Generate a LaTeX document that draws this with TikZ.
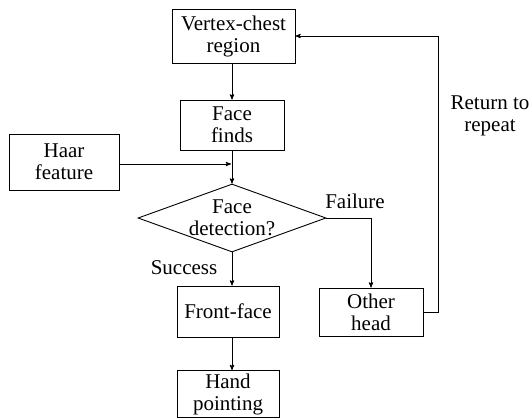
\documentclass[tikz,border=0pt]{standalone}
\usepackage{fontspec}
\setmainfont{Liberation Serif}
\usepackage{tikz}
\usetikzlibrary{arrows,shapes}

\begin{document}
\begin{tikzpicture}[x=1pt,y=-1pt,>=stealth',line width=0.9pt,
    font=\fontsize{21}{22}\selectfont]
  \tikzstyle{block}=[rectangle,draw=black,inner sep=0pt,align=center]
  \tikzstyle{test}=[diamond,draw=black,aspect=2.76,inner sep=-6pt,
  		    minimum width=188pt,minimum height=68pt,align=center]
  \tikzstyle{note}=[inner sep=0pt,align=center]
  \useasboundingbox (0,0) rectangle (530,418);
  \node [block,minimum width=123pt,minimum height=54pt] (vc) at (233.5,36) {Vertex-chest\\region};
  \node [block,minimum width=104pt,minimum height=50pt] (ff) at (232,125) {Face\\finds};
  \node [block,minimum width=110pt,minimum height=56pt] (haar) at (64,162) {Haar\\feature};
  \node [test] (det) at (232,218) {Face\\detection?};
  \node [block,minimum width=102pt,minimum height=51pt] (front) at (228,311.5) {Front-face};
  \node [block,minimum width=104pt,minimum height=48pt] (other) at (371,312) {Other\\head};
  \node [block,minimum width=102pt,minimum height=47pt] (hand) at (228,394) {Hand\\pointing};
  \node [note] (fail) at (355,201) {Failure};
  \node [note] (succ) at (184,268) {Success};
  \node [note] (ret) at (490,116) {Return to\\repeat};
  \draw [->] (vc.south -| ff.north) -- (ff.north);
  \draw [->] (ff.south) -- (det.north);
  \draw [->] (haar.east) ++(0,2) -- (231,164);
  \draw [->] (det.south) -- (det.south |- front.north);
  \draw [->] (det.east) -| (other.north);
  \draw [->] (front.south -| det.south) -- (hand.north -| det.south);
  \draw [->] (other.east) -- ++(15,0) |- (vc.east);
\end{tikzpicture}
\end{document}
